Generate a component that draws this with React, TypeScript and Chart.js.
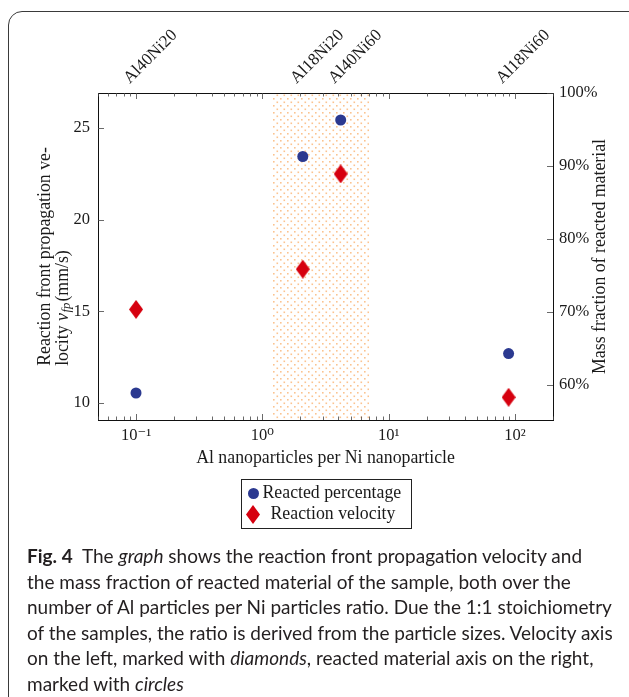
import React, { useEffect, useRef } from 'react';
import { Chart, registerables } from 'chart.js';

Chart.register(...registerables);

// ---------- data ----------
const sampleNames = ['Al40Ni20', 'Al18Ni20', 'Al40Ni60', 'Al18Ni60'];
const particleRatio = [0.1, 2.09, 4.17, 89];
const reactedPercentage = [58.9, 91.3, 96.3, 64.3];
const reactionVelocity = [15.1, 17.3, 22.5, 10.3];
const velocityTicks = [10, 15, 20, 25];
const percentTicks = [60, 70, 80, 90, 100];
const ratioDecades = [-2, -1, 0, 1, 2];
const ratioMantissas = [1, 2, 3, 4, 5, 6, 7, 8, 9];
const highlightRange = [1.2, 7];
const xRange = [0.05, 200];
const velocityRange = [9.06, 26.92];
const percentRange = [55.2, 100];

const SERIF = '"Liberation Serif", "DejaVu Serif", serif';
const FONT = { family: SERIF, size: 16.5 };
const TITLE_FONT = { family: SERIF, size: 17.8 };
const TEXT = '#1a1a1a';
const BLUE = '#2b3990';
const RED = '#d6000f';

const SUP: Record<string, string> = { '-': '⁻', '0': '⁰', '1': '¹', '2': '²', '3': '³', '4': '⁴', '5': '⁵', '6': '⁶', '7': '⁷', '8': '⁸', '9': '⁹' };
const sup = (n: number) => String(n).split('').map((c) => SUP[c] || c).join('');

function makeDiamond(color: string) {
  const c = document.createElement('canvas');
  c.width = 14;
  c.height = 19;
  const g = c.getContext('2d')!;
  g.fillStyle = color;
  g.beginPath();
  g.moveTo(7, 0);
  g.lineTo(14, 9.5);
  g.lineTo(7, 19);
  g.lineTo(0, 9.5);
  g.closePath();
  g.fill();
  return c;
}

function makePattern(ctx: CanvasRenderingContext2D) {
  const c = document.createElement('canvas');
  c.width = 7;
  c.height = 7;
  const g = c.getContext('2d')!;
  g.fillStyle = 'rgba(250,185,125,0.85)';
  g.fillRect(0, 0, 1.6, 1.6);
  g.fillRect(3.5, 3.5, 1.6, 1.6);
  return ctx.createPattern(c, 'repeat')!;
}

const logTicks = () => {
  const out: { value: number; major: boolean }[] = [];
  ratioDecades.forEach((e) =>
    ratioMantissas.forEach((m) => {
      const v = m * Math.pow(10, e);
      if (v >= xRange[0] && v <= xRange[1]) out.push({ value: v, major: m === 1 });
    })
  );
  return out;
};

const decoPlugin = {
  id: 'deco',
  beforeDatasetsDraw(chart: any) {
    const { ctx, chartArea: a, scales } = chart;
    const x0 = scales.x.getPixelForValue(highlightRange[0]);
    const x1 = scales.x.getPixelForValue(highlightRange[1]);
    ctx.save();
    ctx.fillStyle = makePattern(ctx);
    ctx.fillRect(x0, a.top, x1 - x0, a.bottom - a.top);
    ctx.restore();
  },
  afterDraw(chart: any) {
    const { ctx, chartArea: a, scales } = chart;
    ctx.save();
    // inward ticks
    ctx.strokeStyle = '#444';
    ctx.lineWidth = 0.8;
    ctx.beginPath();
    scales.x.ticks.forEach((t: any) => {
      const px = Math.round(scales.x.getPixelForValue(t.value)) + 0.5;
      const len = t.major ? 6 : 3.5;
      ctx.moveTo(px, a.bottom);
      ctx.lineTo(px, a.bottom - len);
      ctx.moveTo(px, a.top);
      ctx.lineTo(px, a.top + len);
    });
    scales.y.ticks.forEach((t: any) => {
      const py = Math.round(scales.y.getPixelForValue(t.value)) + 0.5;
      ctx.moveTo(a.left, py);
      ctx.lineTo(a.left + 6, py);
    });
    scales.y2.ticks.forEach((t: any) => {
      const py = Math.round(scales.y2.getPixelForValue(t.value)) + 0.5;
      ctx.moveTo(a.right, py);
      ctx.lineTo(a.right - 6, py);
    });
    ctx.stroke();

    // y titles
    const fs = TITLE_FONT.size;
    ctx.fillStyle = TEXT;
    ctx.textBaseline = 'middle';
    const cy = (a.top + a.bottom) / 2;
    ctx.font = `${fs}px ${SERIF}`;
    const line1 = 'Reaction front propagation ve-';
    const w1 = ctx.measureText(line1).width;
    ctx.save();
    ctx.translate(a.left - 53, cy + w1 / 2);
    ctx.rotate(-Math.PI / 2);
    ctx.textAlign = 'left';
    ctx.fillText(line1, 0, 0);
    ctx.restore();

    ctx.save();
    ctx.translate(a.left - 35, cy + w1 / 2);
    ctx.rotate(-Math.PI / 2);
    ctx.textAlign = 'left';
    let xx = 0;
    ctx.font = `${fs}px ${SERIF}`;
    ctx.fillText('locity ', xx, 0);
    xx += ctx.measureText('locity ').width;
    ctx.font = `italic ${fs}px ${SERIF}`;
    ctx.fillText('v', xx, 0);
    xx += ctx.measureText('v').width;
    ctx.font = `italic ${fs * 0.72}px ${SERIF}`;
    ctx.fillText('fp', xx + 0.5, 3.5);
    xx += ctx.measureText('fp').width + 1.5;
    ctx.font = `${fs}px ${SERIF}`;
    ctx.fillText('(mm/s)', xx, 0);
    ctx.restore();

    ctx.save();
    ctx.translate(a.right + 47, cy);
    ctx.rotate(-Math.PI / 2);
    ctx.textAlign = 'center';
    ctx.font = `${fs}px ${SERIF}`;
    ctx.fillText('Mass fraction of reacted material', 0, 0);
    ctx.restore();

    // legend
    const ds = chart.data.datasets;
    const cx = (a.left + a.right) / 2;
    const bw = 170;
    const bh = 49;
    const bx = Math.round(cx - bw / 2) + 0.5;
    const by = Math.round(a.bottom + 59) + 0.5;
    ctx.strokeStyle = '#222';
    ctx.lineWidth = 1;
    ctx.strokeRect(bx, by, bw, bh);
    ctx.fillStyle = ds[0].backgroundColor;
    ctx.beginPath();
    ctx.arc(bx + 12, by + 14, 5.5, 0, Math.PI * 2);
    ctx.fill();
    const dia = ds[1].pointStyle;
    ctx.drawImage(dia, bx + 11.5 - dia.width / 2, by + 35 - dia.height / 2);
    ctx.fillStyle = TEXT;
    ctx.textAlign = 'left';
    ctx.font = `${fs}px ${SERIF}`;
    ctx.fillText(ds[0].label, bx + 21, by + 14);
    ctx.fillText(ds[1].label, bx + 29, by + 35);
    ctx.restore();
  },
};

export default function App() {
  const ref = useRef<HTMLCanvasElement>(null);

  useEffect(() => {
    const diamond = makeDiamond(RED);
    const chart = new Chart(ref.current!, {
      type: 'scatter',
      data: {
        datasets: [
          {
            label: 'Reacted percentage',
            data: particleRatio.map((x, i) => ({ x, y: reactedPercentage[i] })),
            yAxisID: 'y2',
            xAxisID: 'x',
            pointStyle: 'circle',
            pointRadius: 5.5,
            backgroundColor: BLUE,
            borderWidth: 0,
          },
          {
            label: 'Reaction velocity',
            data: particleRatio.map((x, i) => ({ x, y: reactionVelocity[i] })),
            yAxisID: 'y',
            xAxisID: 'x',
            pointStyle: diamond as any,
            pointRadius: 8,
            backgroundColor: RED,
            borderWidth: 0,
          },
        ],
      },
      options: {
        animation: false,
        responsive: false,
        maintainAspectRatio: false,
        layout: { padding: { left: 0, right: 0, top: 0, bottom: 75 } },
        plugins: { legend: { display: false }, tooltip: { enabled: false } },
        scales: {
          x: {
            type: 'logarithmic',
            position: 'bottom',
            min: xRange[0],
            max: xRange[1],
            grid: { display: false, drawTicks: false },
            border: { display: true, color: '#111', width: 1 },
            afterBuildTicks: (s: any) => {
              s.ticks = logTicks();
            },
            afterFit: (s: any) => {
              s.height = 50;
            },
            ticks: {
              autoSkip: false,
              maxRotation: 0,
              minRotation: 0,
              padding: 6,
              font: FONT,
              color: TEXT,
              callback: (v: any) => {
                const e = Math.log10(Number(v));
                return Math.abs(e - Math.round(e)) < 1e-9 ? '10' + sup(Math.round(e)) : '';
              },
            },
            title: {
              display: true,
              text: 'Al nanoparticles per Ni nanoparticle',
              font: TITLE_FONT,
              color: TEXT,
              padding: { top: 0, bottom: 1 },
            },
          },
          x2: {
            type: 'logarithmic',
            position: 'top',
            min: xRange[0],
            max: xRange[1],
            grid: { display: false, drawTicks: false },
            border: { display: true, color: '#111', width: 1 },
            afterBuildTicks: (s: any) => {
              s.ticks = particleRatio.map((v) => ({ value: v }));
            },
            afterFit: (s: any) => {
              s.height = 93;
            },
            ticks: {
              autoSkip: false,
              minRotation: 45,
              maxRotation: 45,
              padding: 5,
              labelOffset: 5,
              font: { family: SERIF, size: 17 },
              color: TEXT,
              callback: (_v: any, i: number) => sampleNames[i],
            },
          },
          y: {
            type: 'linear',
            position: 'left',
            min: velocityRange[0],
            max: velocityRange[1],
            grid: { display: false, drawTicks: false },
            border: { display: true, color: '#111', width: 1 },
            afterBuildTicks: (s: any) => {
              s.ticks = velocityTicks.map((v) => ({ value: v }));
            },
            afterFit: (s: any) => {
              s.width = 98;
            },
            ticks: { padding: 8, font: FONT, color: TEXT, callback: (v: any) => String(v) },
          },
          y2: {
            type: 'linear',
            position: 'right',
            min: percentRange[0],
            max: percentRange[1],
            grid: { display: false, drawTicks: false },
            border: { display: true, color: '#111', width: 1 },
            afterBuildTicks: (s: any) => {
              s.ticks = percentTicks.map((v) => ({ value: v }));
            },
            afterFit: (s: any) => {
              s.width = 76;
            },
            ticks: { padding: 6, font: FONT, color: TEXT, callback: (v: any) => v + '%' },
          },
        },
      } as any,
      plugins: [decoPlugin],
    });
    return () => chart.destroy();
  }, []);

  const capStyle: React.CSSProperties = {
    position: 'absolute',
    left: 27,
    top: 543,
    fontFamily: 'Lato, "Noto Sans", sans-serif',
    fontSize: 19,
    lineHeight: '25.6px',
    color: '#231f20',
    whiteSpace: 'nowrap',
  };

  return (
    <div style={{ position: 'fixed', left: 0, top: 0, width: 629, height: 697, overflow: 'hidden', background: '#fff' }}>
      <div
        style={{
          position: 'absolute',
          left: 8,
          top: 11,
          width: 720,
          height: 800,
          border: '1.5px solid #3a3a3a',
          borderRadius: 14,
          boxSizing: 'border-box',
        }}
      />
      <canvas ref={ref} width={629} height={545} style={{ position: 'absolute', left: 0, top: 0, width: 629, height: 545 }} />
      <div style={capStyle}>
        <div>
          <b>Fig. 4</b>&nbsp; The <i>graph</i> shows the reaction front propagation velocity and
        </div>
        <div>the mass fraction of reacted material of the sample, both over the</div>
        <div>number of Al particles per Ni particles ratio. Due the 1:1 stoichiometry</div>
        <div>of the samples, the ratio is derived from the particle sizes. Velocity axis</div>
        <div>
          on the left, marked with <i>diamonds</i>, reacted material axis on the right,
        </div>
        <div>
          marked with <i>circles</i>
        </div>
      </div>
    </div>
  );
}
